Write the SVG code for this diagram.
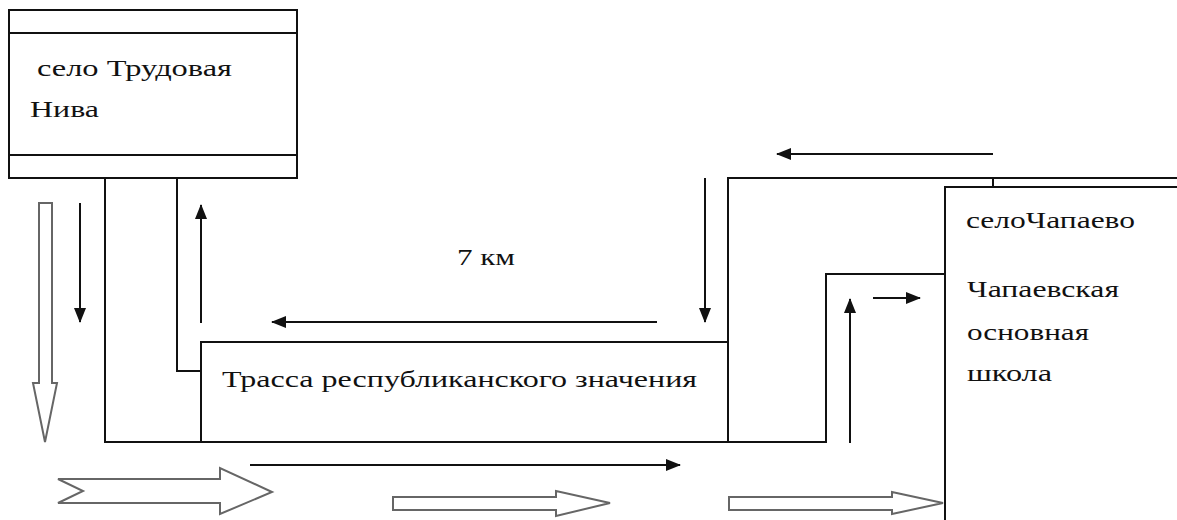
<svg xmlns="http://www.w3.org/2000/svg" width="1177" height="520" viewBox="0 0 1177 520">
<style>
.ln{fill:none;stroke:#111;stroke-width:2}
.box{fill:#fff;stroke:#111;stroke-width:2}
.arr{fill:none;stroke:#111;stroke-width:2;marker-end:url(#ah)}
.open{fill:#fff;stroke:#666;stroke-width:2;stroke-linejoin:miter}
</style>
<defs>
<marker id="ah" markerUnits="userSpaceOnUse" markerWidth="16" markerHeight="14" refX="14" refY="6" orient="auto" viewBox="0 0 16 12">
<path d="M0,0 L15,6 L0,12 z" fill="#111"/>
</marker>
</defs>
<rect width="1177" height="520" fill="#fff"/>
<g id="connectors">
<polyline class="ln" points="105,178 105,442 826,442 826,274 945,274"/>
<polyline class="ln" points="177,178 177,371 201,371"/>
<polyline class="ln" points="728,442 728,178 1177,178"/>
<line class="ln" x1="993" y1="178" x2="993" y2="187"/>
<line class="arr" x1="80" y1="203" x2="80" y2="322"/>
<line class="arr" x1="201" y1="323" x2="201" y2="205"/>
<line class="arr" x1="657" y1="322" x2="272" y2="322"/>
<line class="arr" x1="705" y1="178" x2="705" y2="322"/>
<line class="arr" x1="993" y1="154" x2="777" y2="154"/>
<line class="arr" x1="850" y1="443" x2="850" y2="299"/>
<line class="arr" x1="873" y1="298" x2="920" y2="298"/>
<line class="arr" x1="250" y1="465" x2="680" y2="465"/>
<polygon class="open" points="39,203 52,203 52,383 57,383 45,442 33,383 39,383"/>
<polygon class="open" points="58,479 220,479 220,468 272,492 220,514 220,503 58,503 83,491"/>
<polygon class="open" points="393,497 556,497 556,491 610,503 556,516 556,510 393,510"/>
<polygon class="open" points="729,497 892,497 892,492 943,503 892,514 892,510 729,510"/>
</g>
<g id="trudovaya-niva">
<rect class="box" x="9" y="10" width="288" height="168"/>
<line class="ln" x1="9" y1="33" x2="297" y2="33"/>
<line class="ln" x1="9" y1="155" x2="297" y2="155"/>
<text x="37" y="76" font-family="Liberation Serif" font-size="24" fill="#111" textLength="195" lengthAdjust="spacingAndGlyphs">село Трудовая</text>
<text x="30" y="117" font-family="Liberation Serif" font-size="24" fill="#111" textLength="69" lengthAdjust="spacingAndGlyphs">Нива</text>
</g>
<g id="trassa">
<rect class="box" x="201" y="342" width="527" height="100"/>
<text x="222" y="387" font-family="Liberation Serif" font-size="24" fill="#111" textLength="475" lengthAdjust="spacingAndGlyphs">Трасса республиканского значения</text>
</g>
<g id="distance">
<text x="457" y="265" font-family="Liberation Serif" font-size="24" fill="#111" textLength="58" lengthAdjust="spacingAndGlyphs">7 км</text>
</g>
<g id="chapaevo">
<path class="box" d="M945,520 L945,187 L1180,187 L1180,520"/>
<text x="966" y="228" font-family="Liberation Serif" font-size="24" fill="#111" textLength="169" lengthAdjust="spacingAndGlyphs">селоЧапаево</text>
<text x="967" y="297" font-family="Liberation Serif" font-size="24" fill="#111" textLength="152" lengthAdjust="spacingAndGlyphs">Чапаевская</text>
<text x="967" y="340" font-family="Liberation Serif" font-size="24" fill="#111" textLength="122" lengthAdjust="spacingAndGlyphs">основная</text>
<text x="967" y="381" font-family="Liberation Serif" font-size="24" fill="#111" textLength="85" lengthAdjust="spacingAndGlyphs">школа</text>
</g>
</svg>
